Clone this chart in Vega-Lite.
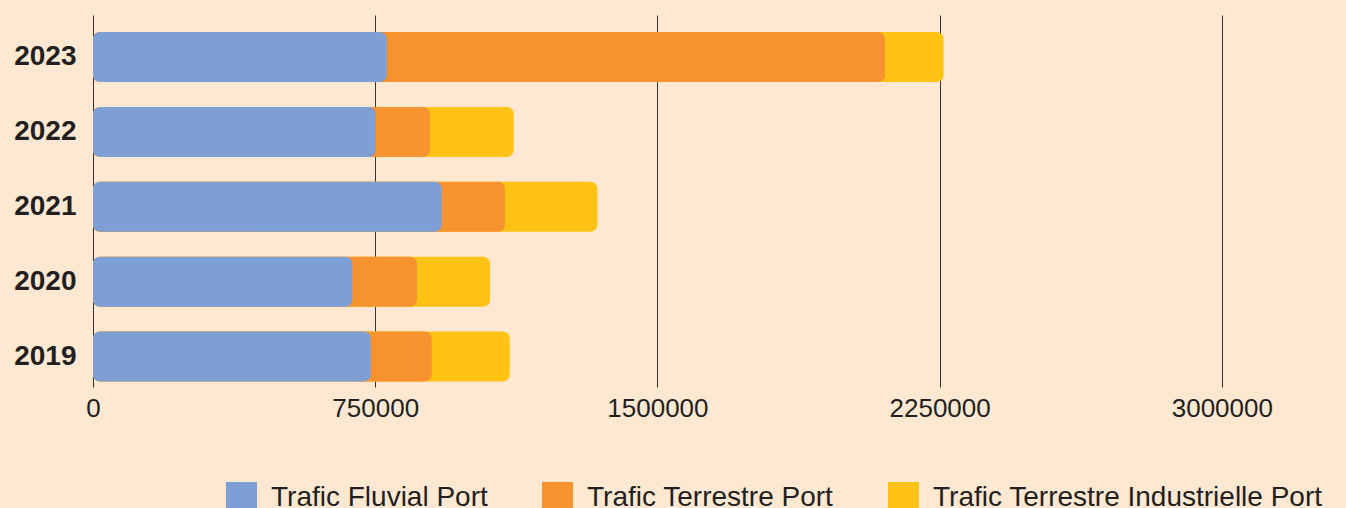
{
  "$schema": "https://vega.github.io/schema/vega-lite/v6.json",
  "width": 1253,
  "height": 372,
  "autosize": {"type": "none"},
  "padding": {"left": 93, "top": 15, "right": 0, "bottom": 121},
  "background": "#fee8d2",
  "config": {
    "font": "Liberation Sans",
    "view": {"stroke": null},
    "axis": {"labelColor": "#231f20"}
  },
  "data": {
    "values": [
      {"year": "2023", "type": "Trafic Fluvial Port", "value": 780700},
      {"year": "2023", "type": "Trafic Terrestre Port", "value": 1324300},
      {"year": "2023", "type": "Trafic Terrestre Industrielle Port", "value": 155600},
      {"year": "2022", "type": "Trafic Fluvial Port", "value": 750900},
      {"year": "2022", "type": "Trafic Terrestre Port", "value": 144800},
      {"year": "2022", "type": "Trafic Terrestre Industrielle Port", "value": 222500},
      {"year": "2021", "type": "Trafic Fluvial Port", "value": 926800},
      {"year": "2021", "type": "Trafic Terrestre Port", "value": 168300},
      {"year": "2021", "type": "Trafic Terrestre Industrielle Port", "value": 245300},
      {"year": "2020", "type": "Trafic Fluvial Port", "value": 689200},
      {"year": "2020", "type": "Trafic Terrestre Port", "value": 172000},
      {"year": "2020", "type": "Trafic Terrestre Industrielle Port", "value": 194000},
      {"year": "2019", "type": "Trafic Fluvial Port", "value": 738100},
      {"year": "2019", "type": "Trafic Terrestre Port", "value": 162200},
      {"year": "2019", "type": "Trafic Terrestre Industrielle Port", "value": 207300}
    ]
  },
  "transform": [
    {"stack": "value", "groupby": ["year"], "as": ["v0", "v1"]}
  ],
  "mark": {"type": "bar", "cornerRadius": 7},
  "encoding": {
    "y": {
      "field": "year",
      "type": "nominal",
      "sort": "descending",
      "scale": {"paddingInner": 0.332, "paddingOuter": 0.15, "align": 0.76},
      "axis": {
        "title": null,
        "domain": false,
        "ticks": false,
        "labelFontSize": 28,
        "labelFontWeight": "bold",
        "labelPadding": 17
      }
    },
    "x": {
      "field": "v1",
      "type": "quantitative",
      "stack": null,
      "scale": {"domain": [0, 3330000], "nice": false, "zero": true},
      "axis": {
        "title": null,
        "values": [0, 750000, 1500000, 2250000, 3000000],
        "format": "d",
        "domain": false,
        "ticks": false,
        "grid": true,
        "gridColor": "#333333",
        "gridOpacity": 1,
        "gridWidth": 1,
        "labelFontSize": 26,
        "labelPadding": 8,
        "labelFlush": false
      }
    },
    "color": {
      "field": "type",
      "type": "nominal",
      "scale": {
        "domain": ["Trafic Fluvial Port", "Trafic Terrestre Port", "Trafic Terrestre Industrielle Port"],
        "range": ["#7e9fd3", "#f7932f", "#fec314"]
      },
      "legend": {
        "title": null,
        "orient": "none",
        "direction": "horizontal",
        "legendX": 133,
        "legendY": 467,
        "symbolType": "square",
        "symbolSize": 961,
        "symbolStrokeWidth": 0,
        "symbolOpacity": 1,
        "labelFontSize": 28,
        "labelColor": "#231f20",
        "labelOffset": 14,
        "labelLimit": 0,
        "columnPadding": 54
      }
    },
    "order": {"field": "v1", "sort": "descending"}
  }
}
